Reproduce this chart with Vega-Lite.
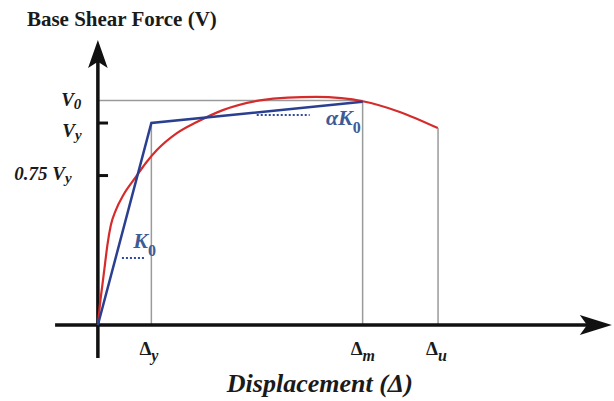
{
  "$schema": "https://vega.github.io/schema/vega-lite/v6.json",
  "width": 614,
  "height": 401,
  "autosize": {"type": "fit", "contains": "padding"},
  "padding": 0,
  "background": "white",
  "config": {"view": {"stroke": null}},
  "datasets": {
    "curve": [
      {"x": 0, "y": 0}, {"x": 0.37, "y": 9.9}, {"x": 0.84, "y": 19.8}, {"x": 1.31, "y": 29.7},
      {"x": 1.78, "y": 39.6}, {"x": 2.43, "y": 49.5}, {"x": 3.36, "y": 56.9}, {"x": 4.77, "y": 64.4},
      {"x": 7.1, "y": 73.3}, {"x": 8.97, "y": 80.2}, {"x": 11.03, "y": 86.6}, {"x": 14.77, "y": 95.0},
      {"x": 18.5, "y": 100.5}, {"x": 23.36, "y": 106.4}, {"x": 30.28, "y": 111.2}, {"x": 35.5, "y": 112.6},
      {"x": 40.8, "y": 112.9}, {"x": 45.5, "y": 112.3}, {"x": 49.53, "y": 110.8}, {"x": 56.45, "y": 105.5},
      {"x": 63.55, "y": 97.5}
    ],
    "bilinear": [
      {"x": 0, "y": 0}, {"x": 10, "y": 100}, {"x": 49.5, "y": 110.5}
    ],
    "guides": [
      {"x": 0, "y": 111.1, "x2": 49.5, "y2": 111.1},
      {"x": 10, "y": 0, "x2": 10, "y2": 100},
      {"x": 49.5, "y": 0, "x2": 49.5, "y2": 110.5},
      {"x": 63.6, "y": 0, "x2": 63.6, "y2": 97.5}
    ],
    "dotted": [
      {"x": 4.5, "y": 33.2, "x2": 8.8, "y2": 33.2},
      {"x": 29.7, "y": 104.0, "x2": 39.6, "y2": 104.0}
    ],
    "axes": [
      {"x": -8.0, "y": 0, "x2": 92.0, "y2": 0, "kind": "axis"},
      {"x": 0, "y": -16.3, "x2": 0, "y2": 132.0, "kind": "axis"},
      {"x": 0, "y": 100, "x2": 1.9, "y2": 100, "kind": "tick"},
      {"x": 0, "y": 74, "x2": 1.9, "y2": 74, "kind": "tick"}
    ],
    "arrows": [
      {"x": 0, "y": 134.2, "dir": "up"},
      {"x": 93.1, "y": 0, "dir": "right"}
    ],
    "ylab": [
      {"x": -4.49, "y": 108.4, "main": "V", "sub": "0"},
      {"x": -4.3, "y": 93.1, "main": "V", "sub": "y"},
      {"x": -6.17, "y": 71.8, "main": "0.75 V", "sub": "y"}
    ],
    "xlab": [
      {"x": 10, "y": -14.85, "main": "Δ", "sub": "y"},
      {"x": 49.5, "y": -14.85, "main": "Δ", "sub": "m"},
      {"x": 63.6, "y": -14.85, "main": "Δ", "sub": "u"}
    ],
    "klab": [
      {"x": 9.35, "y": 38.1, "main": "K", "sub": "0"},
      {"x": 47.66, "y": 99.0, "main": "αK", "sub": "0"}
    ],
    "titles": [
      {"x": -13.27, "y": 148.0, "text": "Base Shear Force (V)", "kind": "y"},
      {"x": 41.5, "y": -33.0, "text": "Displacement (Δ)", "kind": "x"}
    ]
  },
  "encoding": {
    "x": {"field": "x", "type": "quantitative", "scale": {"domain": [-18.3, 96.5], "nice": false, "zero": false}, "axis": null},
    "y": {"field": "y", "type": "quantitative", "scale": {"domain": [-37.6, 160.9], "nice": false, "zero": false}, "axis": null}
  },
  "layer": [
    {
      "data": {"name": "guides"},
      "mark": {"type": "rule", "color": "#9a9a9a", "strokeWidth": 1.5},
      "encoding": {"x2": {"field": "x2"}, "y2": {"field": "y2"}}
    },
    {
      "data": {"name": "dotted"},
      "mark": {"type": "rule", "color": "#2d4a9c", "strokeWidth": 2, "strokeDash": [2, 2]},
      "encoding": {"x2": {"field": "x2"}, "y2": {"field": "y2"}}
    },
    {
      "data": {"name": "axes"},
      "transform": [{"filter": "datum.kind === 'axis'"}],
      "mark": {"type": "rule", "color": "#111111", "strokeWidth": 3.5},
      "encoding": {"x2": {"field": "x2"}, "y2": {"field": "y2"}}
    },
    {
      "data": {"name": "axes"},
      "transform": [{"filter": "datum.kind === 'tick'"}],
      "mark": {"type": "rule", "color": "#111111", "strokeWidth": 3},
      "encoding": {"x2": {"field": "x2"}, "y2": {"field": "y2"}}
    },
    {
      "data": {"name": "curve"},
      "mark": {"type": "line", "color": "#d62b2b", "strokeWidth": 2.2, "interpolate": "monotone"},
      "encoding": {}
    },
    {
      "data": {"name": "bilinear"},
      "mark": {"type": "line", "color": "#2a3f8f", "strokeWidth": 2.5},
      "encoding": {}
    },
    {
      "data": {"name": "arrows"},
      "transform": [{"filter": "datum.dir === 'up'"}],
      "mark": {"type": "point", "filled": true, "opacity": 1, "color": "#111111", "size": 784, "shape": "M0,-1L0.7,1L0,0.55L-0.7,1Z"},
      "encoding": {}
    },
    {
      "data": {"name": "arrows"},
      "transform": [{"filter": "datum.dir === 'right'"}],
      "mark": {"type": "point", "filled": true, "opacity": 1, "color": "#111111", "size": 1024, "shape": "M1,0L-1,-0.63L-0.55,0L-1,0.63Z"},
      "encoding": {}
    },
    {
      "data": {"name": "titles"},
      "transform": [{"filter": "datum.kind === 'y'"}],
      "mark": {"type": "text", "align": "left", "baseline": "alphabetic", "font": "Liberation Serif", "fontWeight": "bold", "fontSize": 21, "color": "#1a1a1a"},
      "encoding": {"text": {"field": "text"}}
    },
    {
      "data": {"name": "titles"},
      "transform": [{"filter": "datum.kind === 'x'"}],
      "mark": {"type": "text", "align": "center", "baseline": "alphabetic", "font": "Liberation Serif", "fontWeight": "bold", "fontStyle": "italic", "fontSize": 26, "color": "#1a1a1a"},
      "encoding": {"text": {"field": "text"}}
    },
    {
      "data": {"name": "ylab"},
      "mark": {"type": "text", "align": "right", "baseline": "alphabetic", "font": "Liberation Serif", "fontWeight": "bold", "fontStyle": "italic", "fontSize": 19, "color": "#1a1a1a"},
      "encoding": {"text": {"field": "main"}}
    },
    {
      "data": {"name": "ylab"},
      "mark": {"type": "text", "align": "left", "baseline": "alphabetic", "dy": 3, "font": "Liberation Serif", "fontWeight": "bold", "fontStyle": "italic", "fontSize": 15, "color": "#1a1a1a"},
      "encoding": {"text": {"field": "sub"}}
    },
    {
      "data": {"name": "xlab"},
      "mark": {"type": "text", "align": "right", "baseline": "alphabetic", "font": "Liberation Serif", "fontWeight": "bold", "fontSize": 19, "color": "#1a1a1a"},
      "encoding": {"text": {"field": "main"}}
    },
    {
      "data": {"name": "xlab"},
      "mark": {"type": "text", "align": "left", "baseline": "alphabetic", "dy": 6, "font": "Liberation Serif", "fontWeight": "bold", "fontStyle": "italic", "fontSize": 16, "color": "#1a1a1a"},
      "encoding": {"text": {"field": "sub"}}
    },
    {
      "data": {"name": "klab"},
      "mark": {"type": "text", "align": "right", "baseline": "alphabetic", "font": "Liberation Serif", "fontWeight": "bold", "fontStyle": "italic", "fontSize": 22, "color": "#3d5c96"},
      "encoding": {"text": {"field": "main"}}
    },
    {
      "data": {"name": "klab"},
      "mark": {"type": "text", "align": "left", "baseline": "alphabetic", "dy": 8, "font": "Liberation Serif", "fontWeight": "bold", "fontSize": 16, "color": "#3d5c96"},
      "encoding": {"text": {"field": "sub"}}
    }
  ]
}
